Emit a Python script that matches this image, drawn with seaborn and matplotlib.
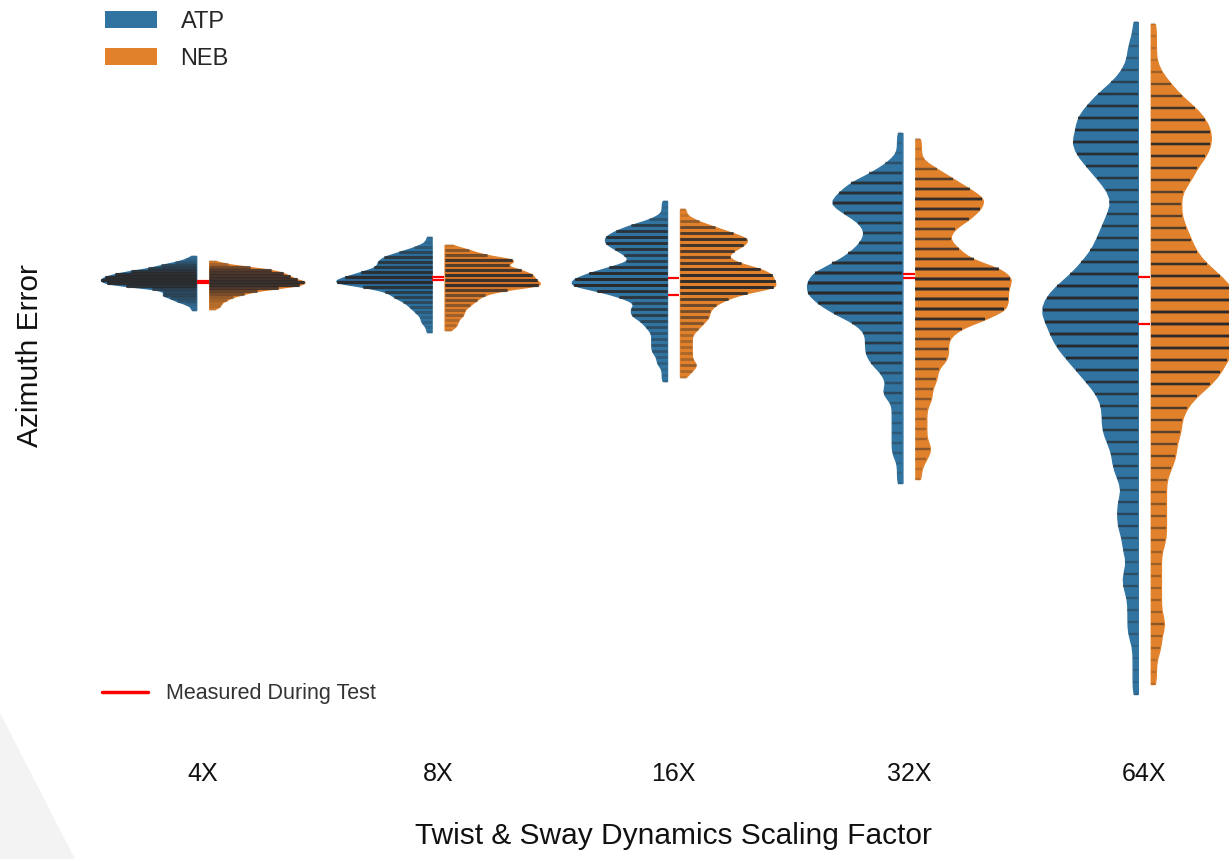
import numpy as np
import pandas as pd
import matplotlib
matplotlib.use("Agg")
import matplotlib.pyplot as plt
import matplotlib.patches as mpatches
from matplotlib.lines import Line2D
from matplotlib.collections import PolyCollection
import seaborn as sns

# ---------------- data ----------------
categories = ["4X", "8X", "16X", "32X", "64X"]
systems = ["ATP", "NEB"]

# azimuth-error levels and number of simulated samples found at each level
atp_4x_levels = [2.4, 2.1, 1.8, 1.5, 1.2, 0.9, 0.6, 0.3, 0.0, -0.3, -0.6, -0.9, -1.2, -1.5, -1.8, -2.1, -2.4, -2.7, -3.0]
atp_4x_counts = [1, 2, 4, 7, 9, 13, 16, 18, 19, 18, 14, 8, 6, 7, 5, 4, 2, 1, 1]
neb_4x_levels = [1.9, 1.6, 1.3, 1.0, 0.7, 0.4, 0.1, -0.2, -0.5, -0.8, -1.1, -1.4, -1.7, -2.0, -2.3, -2.6, -2.9]
neb_4x_counts = [1, 3, 7, 11, 13, 14, 15, 17, 16, 12, 8, 6, 4, 3, 2, 2, 1]

atp_8x_levels = [4.3, 3.8, 3.3, 2.8, 2.3, 1.8, 1.3, 0.8, 0.3, -0.2, -0.7, -1.2, -1.7, -2.2, -2.7, -3.2, -3.7, -4.2, -4.7, -5.2]
atp_8x_counts = [1, 1, 3, 6, 9, 10, 10, 13, 16, 19, 12, 8, 7, 5, 4, 3, 2, 2, 1, 1]
neb_8x_levels = [3.5, 3.0, 2.5, 2.0, 1.5, 1.0, 0.5, 0.0, -0.5, -1.0, -1.5, -2.0, -2.5, -3.0, -3.5, -4.0, -4.5, -5.0]
neb_8x_counts = [1, 4, 6, 12, 9, 12, 14, 14, 16, 9, 6, 5, 4, 3, 3, 2, 2, 1]

atp_16x_levels = [7.9, 7.3, 6.7, 6.1, 5.5, 4.9, 4.3, 3.7, 3.1, 2.5, 1.9, 1.3, 0.7, 0.1, -0.5, -1.1, -1.7, -2.3,
                  -2.9, -3.5, -4.1, -4.7, -5.3, -5.9, -6.5, -7.1, -7.7, -8.3, -8.9, -9.5, -10.1]
atp_16x_counts = [1, 1, 1, 3, 7, 10, 12, 12, 10, 8, 7, 11, 15, 18, 19, 13, 9, 6,
                  7, 7, 5, 4, 3, 3, 3, 3, 2, 2, 1, 1, 1]
neb_16x_levels = [7.1, 6.5, 5.9, 5.3, 4.7, 4.1, 3.5, 2.9, 2.3, 1.7, 1.1, 0.5, -0.1, -0.7, -1.3, -1.9, -2.5,
                  -3.1, -3.7, -4.3, -4.9, -5.5, -6.1, -6.7, -7.3, -7.9, -8.5, -9.1, -9.7]
neb_16x_counts = [1, 1, 3, 6, 9, 12, 11, 9, 8, 10, 14, 16, 16, 17, 11, 8, 6,
                  5, 5, 4, 3, 2, 2, 2, 2, 2, 3, 2, 1]

atp_32x_levels = [14.7, 13.7, 12.7, 11.7, 10.7, 9.7, 8.7, 7.7, 6.7, 5.7, 4.7, 3.7, 2.7, 1.7, 0.7, -0.3, -1.3, -2.3,
                  -3.3, -4.3, -5.3, -6.3, -7.3, -8.3, -9.3, -10.3, -11.3, -12.3, -13.3, -14.3, -15.3, -16.3,
                  -17.3, -18.3, -19.3, -20.3]
atp_32x_counts = [1, 1, 1, 3, 6, 10, 12, 14, 11, 8, 7, 8, 10, 13, 17, 18, 18, 16,
                  13, 9, 7, 7, 7, 6, 4, 3, 4, 2, 2, 2, 2, 2,
                  2, 1, 1, 1]
neb_32x_levels = [14.1, 13.1, 12.1, 11.1, 10.1, 9.1, 8.1, 7.1, 6.1, 5.1, 4.1, 3.1, 2.1, 1.1, 0.1, -0.9, -1.9, -2.9,
                  -3.9, -4.9, -5.9, -6.9, -7.9, -8.9, -9.9, -10.9, -11.9, -12.9, -13.9, -14.9, -15.9, -16.9,
                  -17.9, -18.9, -19.9]
neb_32x_counts = [1, 1, 1, 4, 7, 10, 13, 12, 10, 7, 6, 8, 10, 16, 18, 17, 17, 17,
                  13, 8, 6, 6, 6, 4, 4, 3, 3, 2, 2, 2, 2, 3,
                  2, 1, 1]

atp_64x_levels = [25.8, 24.6, 23.4, 22.2, 21.0, 19.8, 18.6, 17.4, 16.2, 15.0, 13.8, 12.6, 11.4, 10.2, 9.0, 7.8,
                  6.6, 5.4, 4.2, 3.0, 1.8, 0.6, -0.6, -1.8, -3.0, -4.2, -5.4, -6.6, -7.8, -9.0, -10.2, -11.4,
                  -12.6, -13.8, -15.0, -16.2, -17.4, -18.6, -19.8, -21.0, -22.2, -23.4, -24.6, -25.8, -27.0,
                  -28.2, -29.4, -30.6, -31.8, -33.0, -34.2, -35.4, -36.6, -37.8, -39.0, -40.2, -41.4]
atp_64x_counts = [1, 1, 2, 2, 3, 5, 8, 10, 12, 12, 13, 12, 10, 8, 6, 5,
                  6, 7, 8, 9, 11, 13, 16, 18, 19, 18, 17, 16, 14, 12, 10, 8,
                  7, 7, 7, 6, 5, 5, 4, 3, 4, 4, 4, 3, 3,
                  2, 3, 3, 2, 2, 2, 2, 1, 1, 1, 1, 1]
neb_64x_levels = [25.6, 24.4, 23.2, 22.0, 20.8, 19.6, 18.4, 17.2, 16.0, 14.8, 13.6, 12.4, 11.2, 10.0, 8.8, 7.6,
                  6.4, 5.2, 4.0, 2.8, 1.6, 0.4, -0.8, -2.0, -3.2, -4.4, -5.6, -6.8, -8.0, -9.2, -10.4, -11.6,
                  -12.8, -14.0, -15.2, -16.4, -17.6, -18.8, -20.0, -21.2, -22.4, -23.6, -24.8, -26.0, -27.2,
                  -28.4, -29.6, -30.8, -32.0, -33.2, -34.4, -35.6, -36.8, -38.0, -39.2, -40.4]
neb_64x_counts = [1, 1, 1, 1, 2, 4, 6, 9, 11, 12, 12, 11, 9, 8, 6, 6,
                  6, 7, 8, 9, 11, 14, 16, 18, 19, 19, 18, 17, 15, 14, 12, 9,
                  7, 6, 6, 5, 5, 4, 3, 3, 3, 3, 3, 3, 2,
                  2, 2, 2, 2, 2, 3, 2, 2, 1, 1, 1]

# azimuth error measured during the test (two runs per scaling factor)
measured_a = [-0.1, 0.3, 0.2, 0.6, 0.3]
measured_b = [-0.3, 0.0, -1.5, 0.2, -4.4]

groups = [
    ("4X", "ATP", atp_4x_levels, atp_4x_counts), ("4X", "NEB", neb_4x_levels, neb_4x_counts),
    ("8X", "ATP", atp_8x_levels, atp_8x_counts), ("8X", "NEB", neb_8x_levels, neb_8x_counts),
    ("16X", "ATP", atp_16x_levels, atp_16x_counts), ("16X", "NEB", neb_16x_levels, neb_16x_counts),
    ("32X", "ATP", atp_32x_levels, atp_32x_counts), ("32X", "NEB", neb_32x_levels, neb_32x_counts),
    ("64X", "ATP", atp_64x_levels, atp_64x_counts), ("64X", "NEB", neb_64x_levels, neb_64x_counts),
]
frames = []
for cat, sysname, lv, ct in groups:
    frames.append(pd.DataFrame({"factor": cat, "system": sysname,
                                "error": np.repeat(np.asarray(lv, float), ct)}))
df = pd.concat(frames, ignore_index=True)

# ---------------- style ----------------
sns.set_theme(style="white")
plt.rcParams["font.family"] = ["Liberation Sans", "DejaVu Sans"]
palette = ["#3274a1", "#e1812c"]
smooth = [0.18, 0.3, 0.36, 0.6, 0.8]       # kernel bandwidth per factor (error units)
stick_lw = [2.2, 2.2, 2.0, 1.7, 1.6]       # stick thickness per factor (points)
stick_alpha = [0.12, 0.14, 0.16, 0.19, 0.2]

W, H = 1229, 859
fig = plt.figure(figsize=(W / 100, H / 100), dpi=100)
fig.patches.append(mpatches.Polygon([(0, 1 - 713 / H), (75 / W, 0), (0, 0)],
                                    closed=True, transform=fig.transFigure,
                                    facecolor="#f3f3f3", edgecolor="none", zorder=0))
ax_l, ax_r = 85, 1262
ax = fig.add_axes([ax_l / W, 1 - 730 / H, (ax_r - ax_l) / W, 730 / H])
ax.set_facecolor("none")


def kde_scale(v):
    v = np.asarray(v, float)
    return v.std(ddof=1) * len(v) ** (-0.2)


for i, cat in enumerate(categories):
    sub = df[df["factor"] == cat]
    scales = [kde_scale(sub.loc[sub["system"] == s, "error"]) for s in systems]
    adj = smooth[i] / np.mean(scales)
    sns.violinplot(data=sub, x="factor", y="error", hue="system", order=categories,
                   hue_order=systems, split=True, gap=0.12, width=0.92, inner="stick",
                   density_norm="width", cut=0, bw_adjust=adj, palette=palette,
                   saturation=1, linewidth=1,
                   inner_kws=dict(color="#2a2a2a", alpha=stick_alpha[i], linewidth=stick_lw[i],
                                  capstyle="butt"),
                   legend=False, ax=ax)

for c in ax.collections:
    if isinstance(c, PolyCollection):
        c.set_edgecolor(c.get_facecolor())

half_gap = 0.025
pos = np.arange(len(categories))
ax.hlines(measured_a, pos - half_gap, pos + half_gap, color="red", lw=1.6, zorder=5)
ax.hlines(measured_b, pos - half_gap, pos + half_gap, color="red", lw=1.6, zorder=5)

ax.set_xlim(-0.5, 4.5)
ax.set_ylim(-45, 28)
for s in ax.spines.values():
    s.set_visible(False)
ax.set_yticks([])
ax.tick_params(axis="x", length=0, pad=23, labelsize=18, labelcolor="#111111")
ax.set_xlabel("Twist & Sway Dynamics Scaling Factor", fontsize=21.5, labelpad=26, color="#111111")
ax.set_ylabel("Azimuth Error", fontsize=21.5, color="#111111")
ax.yaxis.set_label_coords((44 - ax_l) / (ax_r - ax_l), (730 - 356) / 730)

h1 = [mpatches.Patch(facecolor=palette[0], edgecolor="none"),
      mpatches.Patch(facecolor=palette[1], edgecolor="none")]
fig.legend(h1, systems, loc="upper left", bbox_to_anchor=(105 / W, 1 - 11 / H), frameon=False,
           fontsize=17, handlelength=2.2, handleheight=0.72, handletextpad=1.0,
           labelspacing=0.62, borderpad=0, borderaxespad=0)
h2 = [Line2D([], [], color="red", lw=2.5)]
fig.legend(h2, ["Measured During Test"], loc="center left", bbox_to_anchor=(102 / W, 1 - 694 / H),
           frameon=False, fontsize=15.5, handlelength=2.15, handletextpad=0.8,
           borderpad=0, borderaxespad=0, labelcolor="#333333")

fig.savefig("out.png", dpi=100)
